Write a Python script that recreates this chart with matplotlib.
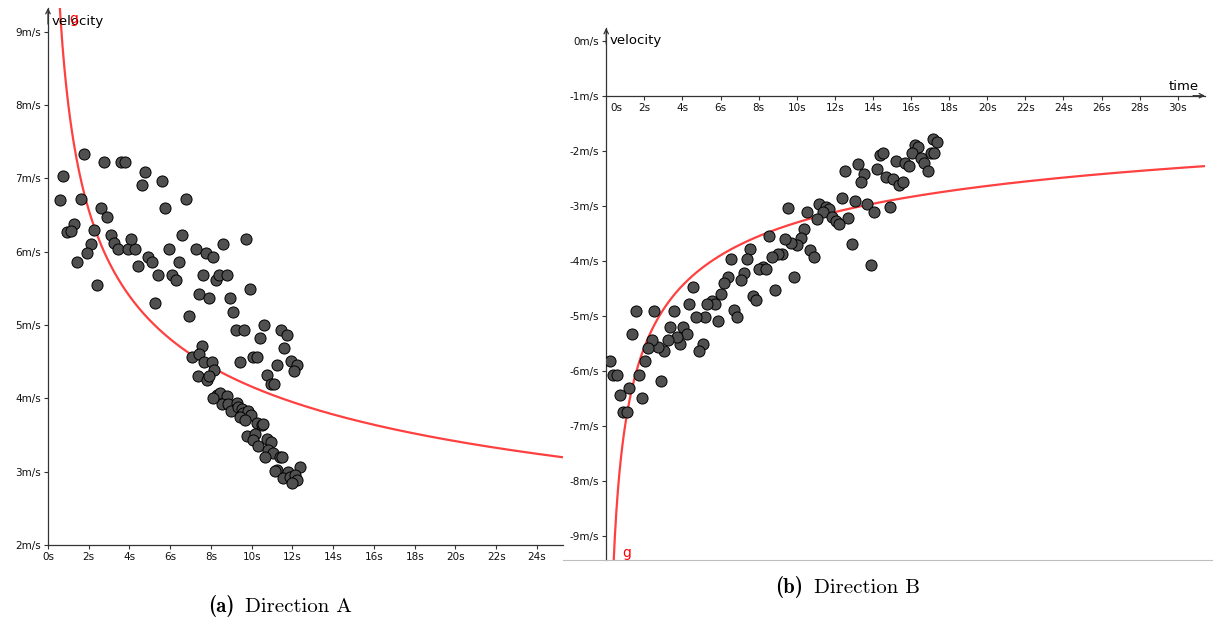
import matplotlib.pyplot as plt
from matplotlib.lines import Line2D
from matplotlib.transforms import ScaledTranslation
import numpy as np

plt.rcParams['font.family'] = ['DejaVu Sans']

# Direction A: time (s) and velocity (m/s) of each sample
time_a = [1.77, 0.75, 0.59, 1.61, 2.75, 3.58, 3.78, 4.76, 4.60, 5.58,
          2.60, 2.91, 1.28, 0.95, 1.11, 2.26, 2.10, 1.93, 1.42, 2.42,
          3.09, 3.25, 3.42, 3.91, 4.27, 4.09, 5.76, 6.76, 6.58, 5.93,
          4.92, 5.09, 4.43, 5.41, 6.07, 6.27, 6.43, 5.25, 6.92, 7.25,
          7.76, 8.10, 8.59, 9.73, 7.59, 8.25, 8.41, 8.77, 7.41, 7.92,
          8.92, 9.10, 9.93, 9.24, 9.61, 10.59, 10.42, 11.42, 11.75, 11.59,
          10.08, 10.25, 9.43, 7.56, 7.07, 7.43, 7.64, 8.07, 8.15, 7.35,
          7.82, 7.92, 11.26, 11.91, 12.24, 12.09, 10.74, 10.93, 11.09,
          8.28, 8.44, 8.77, 8.53, 8.12, 8.85, 8.98, 9.26, 9.31, 9.51,
          9.59, 9.83, 9.97, 9.43, 9.67, 10.25, 10.49, 10.57, 9.75, 10.16,
          10.08, 10.32, 10.74, 10.95, 10.81, 11.06, 10.65, 11.39, 11.50, 11.23,
          11.14, 11.77, 12.37, 11.55, 11.88, 12.12, 12.21, 11.96]
speed_a = [7.34, 7.03, 6.71, 6.72, 7.22, 7.22, 7.22, 7.09, 6.91, 6.97,
           6.60, 6.47, 6.38, 6.27, 6.29, 6.30, 6.11, 5.98, 5.86, 5.55,
           6.23, 6.12, 6.04, 6.04, 6.04, 6.17, 6.60, 6.72, 6.23, 6.04,
           5.93, 5.86, 5.80, 5.68, 5.68, 5.62, 5.86, 5.30, 5.12, 6.04,
           5.98, 5.93, 6.11, 6.17, 5.68, 5.62, 5.68, 5.68, 5.42, 5.37,
           5.37, 5.18, 5.49, 4.93, 4.93, 5.00, 4.82, 4.93, 4.87, 4.69,
           4.57, 4.57, 4.50, 4.72, 4.57, 4.60, 4.50, 4.50, 4.39, 4.31,
           4.25, 4.31, 4.45, 4.51, 4.45, 4.38, 4.32, 4.20, 4.20,
           4.05, 4.08, 4.03, 3.92, 4.01, 3.93, 3.83, 3.94, 3.88, 3.85,
           3.80, 3.83, 3.77, 3.74, 3.70, 3.66, 3.64, 3.65, 3.49, 3.51,
           3.43, 3.35, 3.44, 3.41, 3.30, 3.25, 3.20, 3.20, 3.20, 3.03,
           3.01, 2.99, 3.07, 2.91, 2.93, 2.96, 2.89, 2.84]

# Direction B: time (s) and velocity (m/s)
time_b = [17.17, 17.38, 16.21, 16.38, 16.04, 17.05, 17.22, 16.52, 16.70, 16.88,
          14.37, 14.55, 15.20, 15.70, 15.88, 13.20, 12.53, 13.55, 13.37, 14.20,
          14.69, 15.04, 15.39, 15.56, 12.39, 13.06, 13.69, 14.88, 14.04, 12.71,
          12.89, 13.88, 11.19, 11.54, 11.71, 11.36, 11.87, 12.05, 12.22, 11.05,
          10.54, 9.56, 10.38, 10.21, 10.03, 9.68, 9.39, 10.70, 10.91, 9.87,
          8.55, 9.21, 9.03, 8.72, 8.86, 7.55, 7.37, 6.55, 8.21, 8.02,
          8.37, 7.23, 7.06, 6.38, 6.20, 6.04, 7.69, 7.86, 6.72, 6.88,
          5.88, 5.54, 5.71, 5.31, 5.20, 4.71, 4.54, 4.36, 5.07, 4.87,
          3.54, 3.36, 4.05, 4.23, 3.87, 3.70, 3.23, 3.05, 2.70, 2.39,
          2.21, 2.52, 1.55, 1.37, 2.04, 1.72, 2.88, 1.86, 1.20, 0.72,
          0.20, 0.37, 0.55, 0.90, 1.08]
speed_b = [-1.79, -1.84, -1.89, -1.94, -2.04, -2.04, -2.05, -2.13, -2.23, -2.37,
           -2.08, -2.05, -2.18, -2.23, -2.28, -2.24, -2.37, -2.43, -2.57, -2.33,
           -2.47, -2.52, -2.62, -2.57, -2.86, -2.91, -2.96, -3.02, -3.11, -3.23,
           -3.69, -4.08, -2.97, -3.02, -3.06, -3.11, -3.21, -3.28, -3.33, -3.25,
           -3.11, -3.05, -3.42, -3.59, -3.71, -3.67, -3.61, -3.81, -3.94, -4.29,
           -3.55, -3.87, -3.87, -3.93, -4.53, -3.79, -3.97, -3.97, -4.11, -4.16,
           -4.16, -4.23, -4.36, -4.29, -4.41, -4.60, -4.65, -4.72, -4.90, -5.03,
           -5.09, -4.73, -4.78, -4.79, -5.03, -5.03, -4.47, -4.78, -5.51, -5.64,
           -4.91, -5.21, -5.21, -5.33, -5.51, -5.39, -5.45, -5.64, -5.57, -5.45,
           -5.59, -4.91, -4.91, -5.33, -5.82, -6.07, -6.19, -6.50, -6.32, -6.44,
           -5.82, -6.07, -6.07, -6.76, -6.76]

# power-law fit g(t) = k * t**p for each direction
g_a = (8.0, -0.284)
g_b = (-6.98, -0.3245)

xticks_a = list(range(0, 25, 2))
yticks_a = list(range(2, 10))
xticks_b = list(range(0, 31, 2))
yticks_b = list(range(-9, 1))

DOT = '#505050'
CURVE = '#ff4040'
AXIS = '#333333'

W, H = 1216, 626
fig = plt.figure(figsize=(W / 100, H / 100), dpi=100)


def axes_px(x0, x1, y_top, y_bot):
    return fig.add_axes([x0 / W, 1 - y_bot / H, (x1 - x0) / W, (y_bot - y_top) / H])


def base_style(ax):
    ax.patch.set_visible(False)
    for s in ('top', 'right'):
        ax.spines[s].set_visible(False)
    for s in ('left', 'bottom'):
        ax.spines[s].set_color(AXIS)
        ax.spines[s].set_linewidth(0.9)
    ax.tick_params(length=3, width=0.8, color=AXIS, labelsize=7.5, pad=2,
                   labelcolor='#111111')


def arrow(ax, xy, xytext, coords):
    ax.annotate('', xy=xy, xycoords=coords, xytext=xytext, textcoords=coords,
                arrowprops=dict(arrowstyle='->', color=AXIS, lw=0.9,
                                mutation_scale=8, shrinkA=0, shrinkB=0),
                annotation_clip=False)


def caption(x_tag, x_text, y_base, tag, text):
    fig.text(x_tag / W, 1 - y_base / H, tag, family='cmb10', fontsize=15,
             ha='right', va='baseline')
    fig.text(x_text / W, 1 - y_base / H, text, family='cmr10', fontsize=15,
             ha='left', va='baseline')


# ---- Direction A ----
ax = axes_px(48, 563, 8, 545)
base_style(ax)
ax.set_xlim(0, 25.28)
ax.set_ylim(2, 9.326)
ax.set_xticks(xticks_a, [f'{t}s' for t in xticks_a])
ax.set_yticks(yticks_a, [f'{v}m/s' for v in yticks_a])
ax.scatter(time_a, speed_a, s=64, c=DOT, edgecolors='black', linewidths=0.7, zorder=3)
t = np.linspace(0.4, 25.28, 800)
ax.plot(t, g_a[0] * t ** g_a[1], color=CURVE, lw=1.6, zorder=2)
arrow(ax, (0, 1), (0, 0.97), 'axes fraction')
ax.text(0.2, 9.14, 'velocity', fontsize=9.5, ha='left', va='center', color='black')
ax.text(1.28, 9.18, 'g', fontsize=10, ha='center', va='center', color='red', zorder=5)

# ---- Direction B ----
ax = axes_px(606.2, 1205, 28, 560)
base_style(ax)
ax.spines['bottom'].set_position(('data', -1))
ax.set_xlim(0, 31.43)
ax.set_ylim(-9.442, 0.231)
ax.set_xticks(xticks_b, [f'{t}s' for t in xticks_b])
ax.set_yticks(yticks_b, [f'{v}m/s' for v in yticks_b])
ax.xaxis.get_major_ticks()[0].tick1line.set_visible(False)
lab0 = ax.get_xticklabels()[0]
lab0.set_transform(lab0.get_transform() + ScaledTranslation(10 / 100, 0, fig.dpi_scale_trans))
ax.scatter(time_b, speed_b, s=64, c=DOT, edgecolors='black', linewidths=0.7, zorder=3)
t = np.linspace(0.3, 31.43, 800)
ax.plot(t, g_b[0] * t ** g_b[1], color=CURVE, lw=1.6, zorder=2)
arrow(ax, (0, 1), (0, 0.97), 'axes fraction')
arrow(ax, (1, -1), (0.98, -1), ('axes fraction', 'data'))
ax.text(0.2, 0.0, 'velocity', fontsize=9.5, ha='left', va='center', color='black')
ax.text(31.08, -0.84, 'time', fontsize=9.5, ha='right', va='center', color='black')
ax.text(1.08, -9.31, 'g', fontsize=10, ha='center', va='center', color='red')

# lower edge of the right-hand view
fig.add_artist(Line2D([563 / W, 1212 / W], [1 - 560 / H, 1 - 560 / H],
                      color='#bdbdbd', lw=0.8))

caption(234, 245, 612, '(a)', 'Direction A')
caption(803, 814, 593, '(b)', 'Direction B')

fig.savefig('out.png', dpi=100)
